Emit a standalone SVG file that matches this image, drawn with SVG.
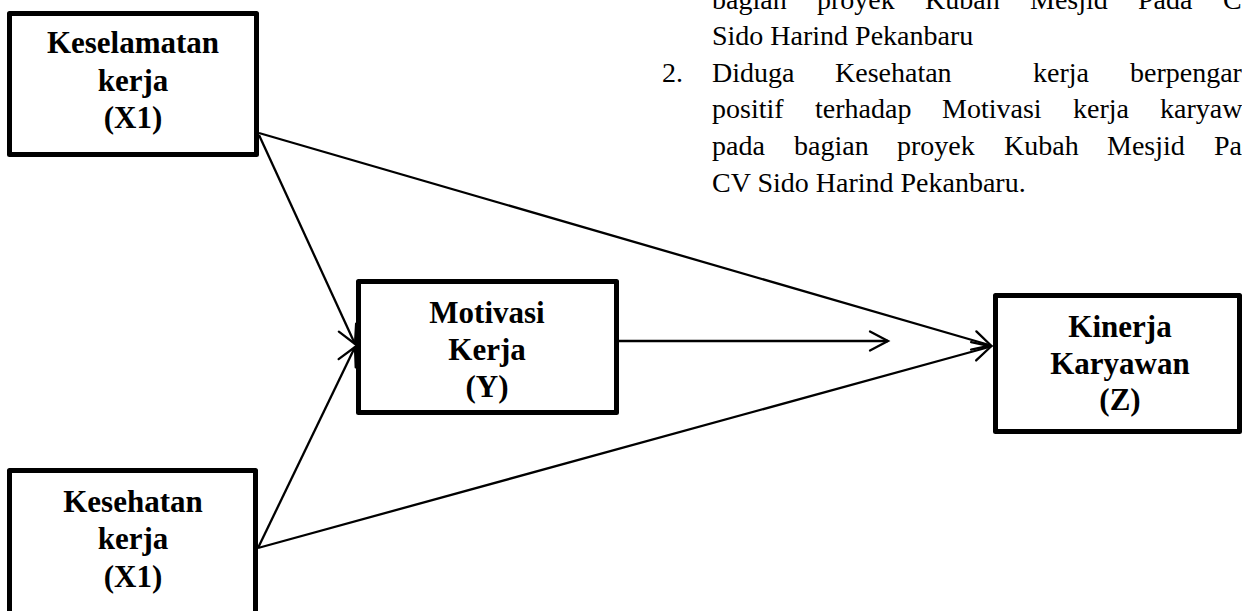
<svg xmlns="http://www.w3.org/2000/svg" width="1242" height="611" viewBox="0 0 1242 611">
<style>
.box{fill:#fff;stroke:#000;stroke-width:5;stroke-linejoin:round}
.lbl{font-family:"Liberation Serif","Times New Roman",serif;font-weight:bold;font-size:31px;text-anchor:middle;fill:#000}
.body{font-family:"Liberation Serif","Times New Roman",serif;font-size:28px;fill:#000}
.con{fill:none;stroke:#000;stroke-width:2.3}
</style>
<defs>
<marker id="arr" markerUnits="userSpaceOnUse" viewBox="-21 -12 24 24" refX="0" refY="0" markerWidth="24" markerHeight="24" orient="auto" overflow="visible">
<path d="M-18,-9.5 L0,0 L-18,9.5" fill="none" stroke="#000" stroke-width="2.3" stroke-linecap="round" stroke-linejoin="miter"/>
</marker>
</defs>
<rect width="1242" height="611" fill="#fff"/>
<g id="text-block" class="body">
<text y="9"><tspan x="712">bagian</tspan><tspan x="817">proyek</tspan><tspan x="925">Kubah</tspan><tspan x="1030">Mesjid</tspan><tspan x="1138">Pada</tspan><tspan x="1223">CV</tspan></text>
<text x="712" y="45">Sido Harind Pekanbaru</text>
<text y="82"><tspan x="662">2.</tspan><tspan x="712">Diduga</tspan><tspan x="835">Kesehatan</tspan><tspan x="1033">kerja</tspan><tspan x="1130">berpengaruh</tspan></text>
<text y="118"><tspan x="712">positif</tspan><tspan x="815">terhadap</tspan><tspan x="942">Motivasi</tspan><tspan x="1073">kerja</tspan><tspan x="1160">karyawan</tspan></text>
<text y="155"><tspan x="712">pada</tspan><tspan x="794">bagian</tspan><tspan x="897">proyek</tspan><tspan x="1004">Kubah</tspan><tspan x="1107">Mesjid</tspan><tspan x="1214">Pada</tspan></text>
<text x="712" y="192">CV Sido Harind Pekanbaru.</text>
</g>
<g id="connectors">
<line class="con" x1="259" y1="133" x2="991" y2="345.5" marker-end="url(#arr)"/>
<line class="con" x1="259" y1="135" x2="355" y2="344" marker-end="url(#arr)"/>
<line class="con" x1="258" y1="548" x2="355" y2="347" marker-end="url(#arr)"/>
<line class="con" x1="258" y1="548" x2="991" y2="346.5" marker-end="url(#arr)"/>
<line class="con" x1="619" y1="341" x2="888" y2="341" marker-end="url(#arr)"/>
</g>
<g id="node-x1-keselamatan">
<rect class="box" x="9.5" y="13.5" width="247" height="141"/>
<text class="lbl" x="133" y="53">Keselamatan</text>
<text class="lbl" x="133" y="91">kerja</text>
<text class="lbl" x="133" y="128">(X1)</text>
</g>
<g id="node-x1-kesehatan">
<rect class="box" x="9.5" y="470.5" width="246" height="160"/>
<text class="lbl" x="133" y="512">Kesehatan</text>
<text class="lbl" x="133" y="549">kerja</text>
<text class="lbl" x="133" y="587">(X1)</text>
</g>
<g id="node-y-motivasi">
<rect class="box" x="358.5" y="281.5" width="258" height="131"/>
<text class="lbl" x="487" y="323">Motivasi</text>
<text class="lbl" x="487" y="360">Kerja</text>
<text class="lbl" x="487" y="397">(Y)</text>
</g>
<g id="node-z-kinerja">
<rect class="box" x="995.5" y="295.5" width="244" height="136"/>
<text class="lbl" x="1120" y="337">Kinerja</text>
<text class="lbl" x="1120" y="374">Karyawan</text>
<text class="lbl" x="1120" y="410">(Z)</text>
</g>
</svg>
